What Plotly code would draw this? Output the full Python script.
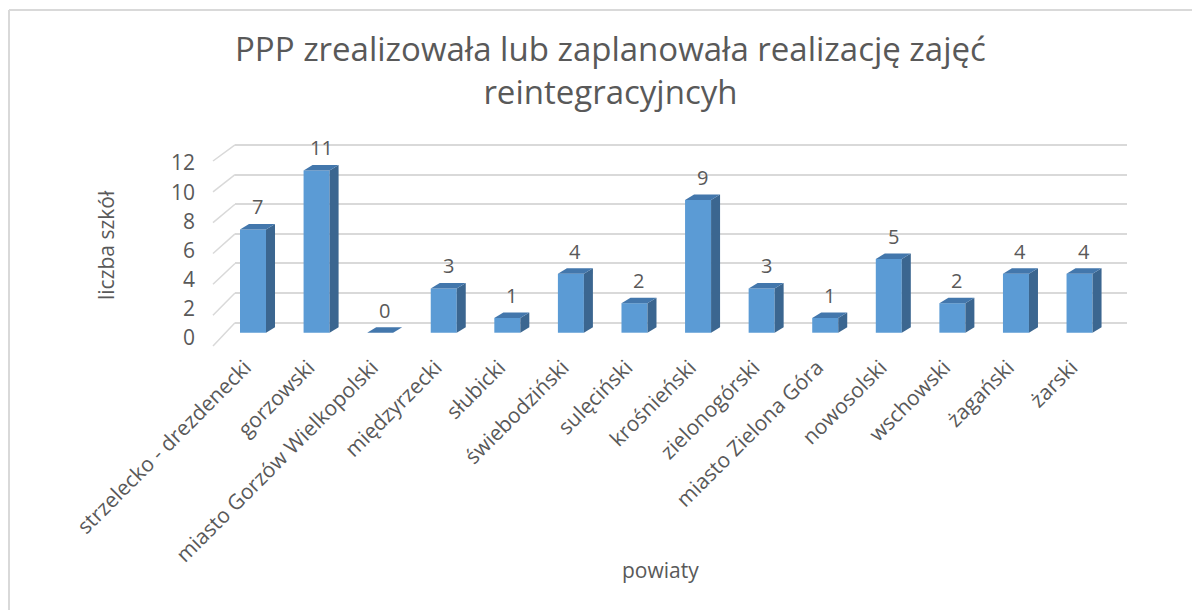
import plotly.graph_objects as go

categories = ["strzelecko - drezdenecki", "gorzowski", "miasto Gorzów Wielkopolski",
              "międzyrzecki", "słubicki", "świebodziński", "sulęciński", "krośnieński",
              "zielonogórski", "miasto Zielona Góra", "nowosolski", "wschowski",
              "żagański", "żarski"]
values = [7, 11, 0, 3, 1, 4, 2, 9, 3, 1, 5, 2, 4, 4]
y_ticks = [0, 2, 4, 6, 8, 10, 12]

TITLE = "PPP zrealizowała lub zaplanowała realizację zajęć<br>reintegracyjncyh"
FONT = "Open Sans"
TXT = "#595959"
GRID = "#D9D9D9"
FRONT = "#5B9BD5"
SIDE = "#3B6690"
TOP = "#4377AC"

W, H = 1200, 610
OFF = 8  # page body margin in the screenshot
def px(x):
    return (x - OFF) / W
def py(y):
    return 1 - (y - OFF) / H

half = 0.2045   # half bar width (x units)
dx = 0.1416     # depth offset, x units
dy = 0.373      # depth offset, y units

fig = go.Figure()

xs = list(range(len(categories)))
fig.add_trace(go.Bar(x=xs, y=values, width=2 * half, marker=dict(color=FRONT, line=dict(width=0)),
                     xaxis="x", yaxis="y", hoverinfo="skip", showlegend=False))

for i, v in zip(xs, values):
    if v > 0:
        fig.add_trace(go.Scatter(
            x=[i + half, i + half + dx, i + half + dx, i + half, i + half],
            y=[0, dy, v + dy, v, 0], fill="toself", fillcolor=SIDE, mode="lines",
            line=dict(width=0, color=SIDE), hoverinfo="skip", showlegend=False))
    fig.add_trace(go.Scatter(
        x=[i - half, i + half, i + half + dx, i - half + dx, i - half],
        y=[v, v, v + dy, v + dy, v], fill="toself", fillcolor=TOP, mode="lines",
        line=dict(width=0, color=TOP), hoverinfo="skip", showlegend=False))

for i, v in zip(xs, values):
    fig.add_annotation(x=i + dx / 2, y=v, xref="x", yref="y", yshift=22.5, text=str(v),
                       showarrow=False, font=dict(family=FONT, size=20, color=TXT))

shapes = []
for t in y_ticks:
    off = 23.3 - 0.608 * t
    shapes.append(dict(type="line", xref="paper", yref="y2", x0=px(213), x1=px(235),
                       ysizemode="pixel", yanchor=t, y0=-off, y1=0,
                       line=dict(color=GRID, width=1.5)))
shapes.append(dict(type="line", xref="paper", yref="paper", x0=px(9), x1=1.05, y0=py(10), y1=py(10),
                   line=dict(color=GRID, width=2)))
shapes.append(dict(type="line", xref="paper", yref="paper", x0=px(9), x1=px(9), y0=py(10), y1=-0.05,
                   line=dict(color=GRID, width=2)))

top_px, bot_px = 130, 350
xl, xr = 235, 1127
xc0, xsp = 253, 63.58

def yrange(zero_px, scale):
    return [(zero_px - bot_px) / scale, (zero_px - top_px) / scale]

dom_y = [py(bot_px), py(top_px)]

fig.update_layout(
    width=W, height=H, margin=dict(l=0, r=0, t=0, b=0),
    template="none", paper_bgcolor="white", plot_bgcolor="rgba(0,0,0,0)",
    showlegend=False, shapes=shapes,
    xaxis=dict(domain=[px(xl), px(xr)], range=[(xl - xc0) / xsp, (xr - xc0) / xsp],
               tickmode="array", tickvals=xs, ticktext=categories, tickangle=-45,
               ticklabelshift=-8,
               ticks="", showgrid=False, zeroline=False, showline=False, automargin=False,
               tickfont=dict(family=FONT, size=21, color=TXT)),
    yaxis=dict(domain=dom_y, range=yrange(332.7, 14.75), showgrid=False, zeroline=False,
               showticklabels=False, showline=False, automargin=False),
    yaxis2=dict(domain=dom_y, range=yrange(322.7, 14.81), overlaying="y", anchor="x",
                tickmode="array", tickvals=y_ticks, showgrid=True, gridcolor=GRID, gridwidth=1.5,
                zeroline=False, showticklabels=False, showline=False, automargin=False),
    yaxis3=dict(domain=dom_y, range=yrange(338, 14.58), overlaying="y", anchor="free",
                position=px(195), tickmode="array", tickvals=y_ticks, showgrid=False,
                zeroline=False, showline=False, ticks="", automargin=False,
                tickfont=dict(family=FONT, size=21, color=TXT)),
)
fig.add_trace(go.Scatter(x=[0], y=[0], yaxis="y2", mode="markers", marker=dict(opacity=0),
                         hoverinfo="skip", showlegend=False))
fig.add_trace(go.Scatter(x=[0], y=[0], yaxis="y3", mode="markers", marker=dict(opacity=0),
                         hoverinfo="skip", showlegend=False))

fig.add_annotation(text=TITLE, xref="paper", yref="paper", x=px(610), y=py(70),
                   xanchor="center", yanchor="middle",
                   showarrow=False, font=dict(family=FONT, size=33, color=TXT))
fig.add_annotation(text="liczba szkół", xref="paper", yref="paper", x=px(106), y=py(245),
                   xanchor="center", yanchor="middle",
                   textangle=-90, showarrow=False, font=dict(family=FONT, size=21, color=TXT))
fig.add_annotation(text="powiaty", xref="paper", yref="paper", x=px(660), y=py(570),
                   xanchor="center", yanchor="middle",
                   showarrow=False, font=dict(family=FONT, size=21, color=TXT))

fig.write_html("out.html")
